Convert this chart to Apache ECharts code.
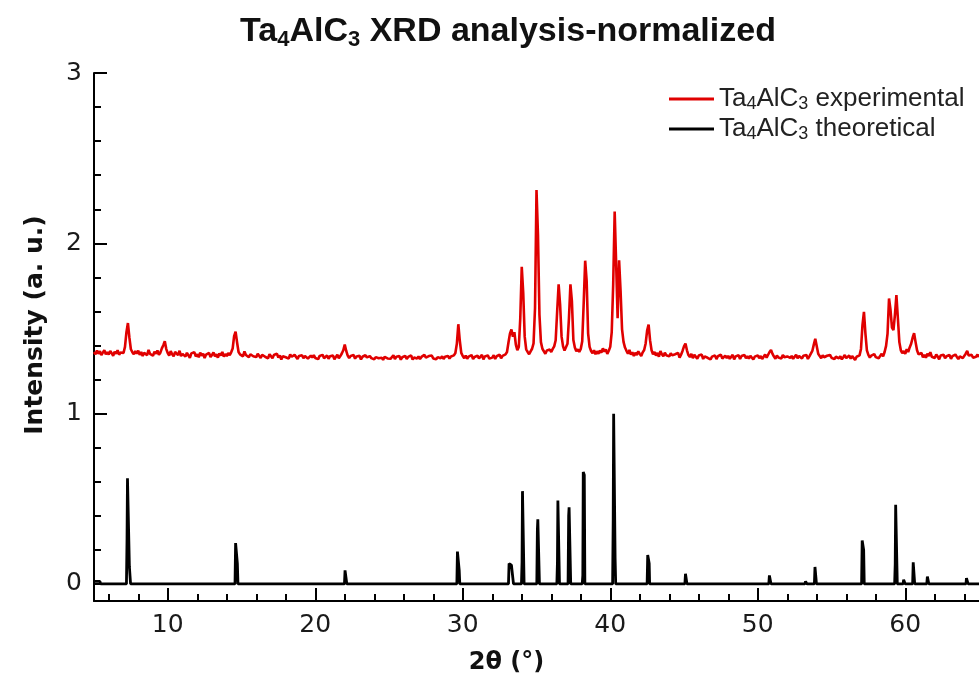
<!DOCTYPE html>
<html><head><meta charset="utf-8">
<script src="https://cdn.jsdelivr.net/npm/echarts@6/dist/echarts.min.js"></script>
<style>html,body{margin:0;padding:0;background:#fff}#c{width:979px;height:684px}</style>
</head><body><div id="c"></div>
<script>
// 2θ sampling grid of the experimental scan (start, step in degrees)
const THETA_START = 5;
const THETA_STEP = 0.1;
// experimental normalized intensity, one row per degree (x.0 ... x.9)
const expIntensity = [
1.362,1.348,1.371,1.352,1.366,1.344,1.358,1.373,1.349,1.361,
1.347,1.368,1.355,1.340,1.364,1.351,1.372,1.346,1.359,1.365,
1.356,1.392,1.478,1.532,1.446,1.378,1.361,1.349,1.367,1.352,
1.370,1.345,1.362,1.338,1.357,1.366,1.343,1.374,1.351,1.359,
1.340,1.364,1.352,1.371,1.346,1.358,1.383,1.402,1.425,1.379,
1.356,1.341,1.367,1.349,1.337,1.362,1.353,1.344,1.369,1.338,
1.351,1.360,1.335,1.357,1.346,1.328,1.354,1.343,1.361,1.336,
1.349,1.331,1.358,1.340,1.352,1.327,1.347,1.338,1.356,1.333,
1.345,1.359,1.336,1.348,1.329,1.353,1.341,1.362,1.335,1.350,
1.338,1.356,1.343,1.360,1.382,1.455,1.482,1.418,1.362,1.348,
1.357,1.336,1.365,1.344,1.352,1.331,1.349,1.358,1.337,1.346,
1.332,1.351,1.340,1.327,1.346,1.355,1.334,1.343,1.325,1.349,
1.338,1.326,1.344,1.335,1.352,1.329,1.341,1.318,1.337,1.346,
1.331,1.340,1.323,1.347,1.334,1.328,1.345,1.336,1.321,1.339,
1.330,1.343,1.326,1.338,1.349,1.324,1.335,1.341,1.329,1.344,
1.327,1.336,1.320,1.339,1.331,1.345,1.325,1.334,1.342,1.322,
1.337,1.328,1.341,1.319,1.333,1.346,1.326,1.338,1.353,1.372,
1.405,1.368,1.341,1.326,1.339,1.331,1.344,1.323,1.336,1.329,
1.340,1.318,1.334,1.327,1.343,1.330,1.321,1.338,1.326,1.335,
1.319,1.332,1.341,1.325,1.336,1.328,1.316,1.333,1.339,1.324,
1.335,1.322,1.330,1.343,1.320,1.334,1.327,1.338,1.317,1.331,
1.326,1.339,1.321,1.333,1.328,1.342,1.318,1.330,1.337,1.324,
1.336,1.320,1.333,1.326,1.345,1.329,1.322,1.338,1.327,1.341,
1.324,1.335,1.319,1.332,1.340,1.325,1.337,1.321,1.334,1.328,
1.339,1.323,1.336,1.330,1.342,1.356,1.410,1.525,1.428,1.357,
1.338,1.326,1.341,1.322,1.335,1.329,1.344,1.320,1.333,1.327,
1.340,1.324,1.331,1.345,1.319,1.336,1.328,1.342,1.323,1.334,
1.329,1.343,1.321,1.337,1.330,1.346,1.325,1.339,1.333,1.348,
1.362,1.418,1.470,1.494,1.452,1.478,1.405,1.372,1.391,1.560,
1.862,1.710,1.452,1.378,1.362,1.349,1.366,1.381,1.412,1.620,
2.313,2.050,1.580,1.420,1.381,1.366,1.352,1.371,1.360,1.376,
1.362,1.380,1.395,1.431,1.598,1.759,1.640,1.452,1.395,1.371,
1.382,1.410,1.560,1.759,1.660,1.432,1.388,1.366,1.378,1.362,
1.380,1.425,1.650,1.898,1.780,1.470,1.392,1.368,1.355,1.372,
1.349,1.366,1.352,1.371,1.358,1.383,1.364,1.377,1.351,1.369,
1.392,1.478,1.760,2.186,1.880,1.560,1.900,1.720,1.495,1.421,
1.388,1.369,1.352,1.374,1.346,1.361,1.339,1.357,1.344,1.366,
1.351,1.338,1.360,1.374,1.412,1.488,1.523,1.430,1.372,1.349,
1.362,1.341,1.356,1.334,1.368,1.349,1.337,1.358,1.343,1.352,
1.336,1.355,1.342,1.331,1.349,1.338,1.357,1.329,1.346,1.368,
1.395,1.412,1.372,1.344,1.332,1.351,1.326,1.345,1.338,1.323,
1.341,1.330,1.347,1.321,1.336,1.344,1.328,1.339,1.318,1.335,
1.327,1.342,1.320,1.337,1.331,1.346,1.324,1.334,1.341,1.326,
1.339,1.322,1.333,1.345,1.319,1.336,1.328,1.343,1.321,1.338,
1.330,1.344,1.325,1.337,1.323,1.340,1.332,1.318,1.335,1.327,
1.342,1.326,1.338,1.321,1.334,1.347,1.329,1.336,1.362,1.374,
1.351,1.335,1.322,1.341,1.329,1.337,1.324,1.345,1.331,1.320,
1.336,1.343,1.327,1.339,1.322,1.333,1.346,1.325,1.338,1.331,
1.324,1.340,1.329,1.344,1.321,1.336,1.347,1.368,1.405,1.440,
1.395,1.352,1.338,1.326,1.343,1.331,1.322,1.340,1.333,1.345,
1.328,1.339,1.320,1.334,1.342,1.325,1.337,1.319,1.331,1.344,
1.326,1.335,1.341,1.323,1.338,1.329,1.316,1.334,1.327,1.342,
1.380,1.520,1.598,1.470,1.372,1.345,1.329,1.341,1.336,1.350,
1.332,1.343,1.325,1.339,1.351,1.336,1.362,1.398,1.470,1.676,
1.610,1.505,1.490,1.580,1.696,1.560,1.420,1.372,1.355,1.368,
1.351,1.378,1.362,1.389,1.410,1.446,1.472,1.420,1.372,1.348,
1.339,1.356,1.331,1.345,1.328,1.352,1.338,1.361,1.334,1.342,
1.327,1.348,1.335,1.319,1.341,1.330,1.346,1.325,1.337,1.331,
1.344,1.322,1.338,1.329,1.347,1.333,1.320,1.336,1.343,1.326,
1.335,1.352,1.368,1.341,1.330,1.345,1.328,1.339,1.334,1.347,
1.332
];
// theoretical stick pattern (2θ, intensity) outline points
const theoTheta = [
5.00,5.40,5.45,
7.20,7.24,7.27,7.37,7.40,7.45,7.48,
14.56,14.60,14.68,14.72,14.76,
21.98,22.02,22.10,22.14,
29.60,29.64,29.72,29.76,29.80,
33.10,33.14,33.26,33.30,33.40,33.44,
33.98,34.02,34.05,34.12,34.16,
35.02,35.06,35.09,35.16,35.20,
36.38,36.42,36.45,36.52,36.56,
37.14,37.18,37.21,37.28,37.32,
38.10,38.14,38.17,38.24,38.28,
40.16,40.20,40.23,40.30,40.33,40.37,
42.50,42.54,42.60,42.64,42.67,
45.06,45.10,45.16,45.20,
47.80,47.84,47.90,47.94,
50.75,50.79,50.86,50.90,
53.20,53.24,53.30,53.34,
53.84,53.88,53.94,53.98,
57.04,57.08,57.14,57.18,57.22,
59.28,59.32,59.35,59.42,59.46,
59.86,59.89,59.96,60.00,
60.50,60.54,60.60,60.64,
61.46,61.50,61.56,61.60,
64.12,64.15,64.22,64.26,
65.00
];
const theoIntensity = [
0.015,0.015,0,
0,0.27,0.62,0.62,0.10,0.10,0,
0,0.24,0.235,0.12,0,
0,0.08,0.075,0,
0,0.19,0.185,0.08,0,
0,0.12,0.12,0.11,0.11,0,
0,0.13,0.545,0.54,0,
0,0.32,0.38,0.37,0,
0,0.13,0.49,0.48,0,
0,0.40,0.45,0.44,0,
0,0.05,0.657,0.64,0,
0,0.38,1.0,1.0,0.15,0,
0,0.17,0.176,0.12,0,
0,0.06,0.055,0,
0,0.01,0.01,0,
0,0.05,0.045,0,
0,0.015,0.012,0,
0,0.10,0.095,0,
0,0.255,0.25,0.20,0,
0,0.12,0.465,0.46,0,
0,0.025,0.025,0,
0,0.127,0.12,0,
0,0.043,0.04,0,
0,0.035,0.03,0,
0
];
const xMajorTicks = [10,20,30,40,50,60];
const xMinorTicks = [6,8,12,14,16,18,22,24,26,28,32,34,36,38,42,44,46,48,52,54,56,58,62,64];
const yMajorTicks = [0,1,2,3];
const yMinorTicks = [0.2,0.4,0.6,0.8,1.2,1.4,1.6,1.8,2.2,2.4,2.6,2.8];
const seriesNames = ['Ta4AlC3 experimental','Ta4AlC3 theoretical'];
const legendRich = {
  'Ta4AlC3 experimental': '{n|Ta}{s|4}{n|AlC}{s|3}{n| experimental}',
  'Ta4AlC3 theoretical': '{n|Ta}{s|4}{n|AlC}{s|3}{n| theoretical}'
};
const titleText = '{n|Ta}{s|4}{n|AlC}{s|3}{n| XRD analysis-normalized}';

const expData = expIntensity.map((v, i) => [+(THETA_START + i * THETA_STEP).toFixed(2), v]);
const theoData = theoTheta.map((t, i) => [t, theoIntensity[i]]);

const LAB = 'DejaVu Sans';
const SANS = 'Liberation Sans';
const chart = echarts.init(document.getElementById('c'), null, {renderer: 'canvas'});
const xBase = {type: 'value', min: 5, max: 65, gridIndex: 0, position: 'bottom', splitLine: {show: false}};
const yBase = {type: 'value', min: -0.1, max: 3, gridIndex: 0, position: 'left', splitLine: {show: false}};
chart.setOption({
  animation: false,
  backgroundColor: '#ffffff',
  title: {
    text: titleText,
    left: 503, top: 8, textAlign: 'center',
    textStyle: {
      fontFamily: SANS, fontWeight: 'bold', fontSize: 34, color: '#111',
      rich: {
        n: {fontFamily: SANS, fontWeight: 'bold', fontSize: 34, lineHeight: 38, color: '#111'},
        s: {fontFamily: SANS, fontWeight: 'bold', fontSize: 22, lineHeight: 24, padding: [14, 0, 0, 0], verticalAlign: 'bottom', color: '#111'}
      }
    }
  },
  legend: {
    orient: 'vertical', left: 664, top: 80, itemGap: 2,
    itemWidth: 45, itemHeight: 3, icon: 'rect',
    data: seriesNames,
    formatter: name => legendRich[name],
    textStyle: {
      fontFamily: SANS, fontSize: 26, color: '#222',
      rich: {
        n: {fontFamily: SANS, fontSize: 26, lineHeight: 28, color: '#222'},
        s: {fontFamily: SANS, fontSize: 18, lineHeight: 18, padding: [10, 0, 0, 0], verticalAlign: 'bottom', color: '#222'}
      }
    }
  },
  grid: {left: 94, top: 73, right: -8, bottom: 83, containLabel: false},
  xAxis: [
    Object.assign({}, xBase, {
      name: '2θ (°)', nameLocation: 'middle', nameGap: 50,
      nameTextStyle: {fontFamily: LAB, fontWeight: 'bold', fontSize: 24, color: '#111', padding: [0, 60, 0, 0]},
      axisLine: {show: true, onZero: false, lineStyle: {color: '#000', width: 2}},
      axisTick: {show: true, inside: true, length: 13, customValues: xMajorTicks, lineStyle: {color: '#000', width: 2}},
      axisLabel: {show: true, margin: 12, customValues: xMajorTicks, fontFamily: LAB, fontSize: 25, color: '#1a1a1a'}
    }),
    Object.assign({}, xBase, {
      axisLine: {show: false, onZero: false},
      axisTick: {show: true, inside: true, length: 7, customValues: xMinorTicks, lineStyle: {color: '#000', width: 2}},
      axisLabel: {show: false}
    })
  ],
  yAxis: [
    Object.assign({}, yBase, {
      name: 'Intensity (a. u.)', nameLocation: 'middle', nameGap: 46,
      nameTextStyle: {fontFamily: LAB, fontWeight: 'bold', fontSize: 25, color: '#111', padding: [0, 0, 0, 24]},
      axisLine: {show: true, onZero: false, lineStyle: {color: '#000', width: 2}},
      axisTick: {show: true, inside: true, length: 13, customValues: yMajorTicks, lineStyle: {color: '#000', width: 2}},
      axisLabel: {show: true, margin: 12, customValues: yMajorTicks, fontFamily: LAB, fontSize: 25, color: '#1a1a1a'}
    }),
    Object.assign({}, yBase, {
      axisLine: {show: false, onZero: false},
      axisTick: {show: true, inside: true, length: 7, customValues: yMinorTicks, lineStyle: {color: '#000', width: 2}},
      axisLabel: {show: false}
    })
  ],
  series: [
    {name: seriesNames[0], type: 'line', xAxisIndex: 0, yAxisIndex: 0, data: expData, showSymbol: false, symbol: 'none',
     lineStyle: {color: '#e00000', width: 2.6}, itemStyle: {color: '#e00000'}},
    {name: seriesNames[1], type: 'line', xAxisIndex: 0, yAxisIndex: 0, data: theoData, showSymbol: false, symbol: 'none',
     lineStyle: {color: '#000000', width: 2.8}, itemStyle: {color: '#000000'}}
  ]
});
</script>
</body></html>
